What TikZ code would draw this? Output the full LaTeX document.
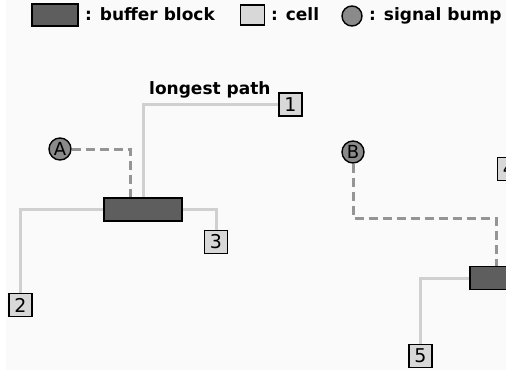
\documentclass[tikz,border=0pt]{standalone}
\usepackage{fontspec}
\setmainfont{DejaVu Sans}
\usetikzlibrary{calc}
\definecolor{bufgray}{HTML}{5E5E5E}
\definecolor{cellgray}{HTML}{D8D8D8}
\definecolor{bumpgray}{HTML}{8A8A8A}
\definecolor{wiregray}{HTML}{D0D0D0}
\definecolor{dashgray}{HTML}{959595}
\definecolor{paper}{HTML}{FAFAFA}
\tikzset{
  bufferbox/.style={draw=black, line width=1.5pt, fill=bufgray, minimum width=78pt, minimum height=23pt, inner sep=0pt},
  cellbox/.style={draw=black, line width=1.4pt, fill=cellgray, minimum width=23pt, minimum height=23pt, inner sep=0pt, font=\fontsize{19}{19}\selectfont},
  bump/.style={draw=black, line width=1.4pt, fill=bumpgray, circle, minimum size=22pt, inner sep=0pt, font=\fontsize{18}{18}\selectfont},
  wire/.style={draw=wiregray, line width=3pt},
  busline/.style={draw=dashgray, line width=3pt, dash pattern=on 9pt off 5pt},
  legendtext/.style={anchor=base west, inner sep=0pt, font=\fontsize{17}{17}\selectfont\bfseries},
}
\begin{document}
\begin{tikzpicture}[x=1pt, y=-1pt]
  \useasboundingbox (0,0) rectangle (506,373);
  \clip (0,0) rectangle (506,373);
  \fill[white] (0,0) rectangle (506,373);
  \fill[paper] (6,0) rectangle (506,370);

  % legend
  \node[bufferbox, minimum width=46pt, minimum height=22pt] (lgbuf) at (55,15) {};
  \node[legendtext] (lgbuftxt) at (85,20) {: buffer block};
  \node[cellbox, minimum width=24pt, minimum height=20pt] (lgcell) at (252.5,15) {};
  \node[legendtext] (lgcelltxt) at (271,20) {: cell};
  \node[bump, minimum size=20pt] (lgbump) at (352,16) {};
  \node[legendtext] (lgbumptxt) at (369,20) {: signal bump};

  % left buffer tree
  \node[bufferbox] (buf1) at (143,209.5) {};
  \node[cellbox] (c1) at (290.5,104.5) {1};
  \node[cellbox] (c2) at (20.5,305) {2};
  \node[cellbox] (c3) at (216,242) {3};
  \node[bump] (A) at (60,149) {A};
  \node[legendtext] (lp) at (149,94) {longest path};

  % right buffer tree
  \node[bufferbox] (buf2) at (509,278) {};
  \node[cellbox] (c4) at (509,169) {4};
  \node[cellbox] (c5) at (420.5,356) {5};
  \node[bump] (B) at (353,152) {B};

  \coordinate (ka) at ($(buf1.north)+(-13,0)$);
  \coordinate (kb) at (496,218);

  % wiring
  \draw[wire] (c1.west) -| (buf1.north);
  \draw[wire] (buf1.west) -| (c2.north);
  \draw[wire] (buf1.east) -| (c3.north);
  \draw[wire] (buf2.west) -| (c5.north);
  \draw[busline] (A.east) -| (ka);
  \draw[busline] (B.south) |- (kb) -- (kb |- buf2.north);
\end{tikzpicture}
\end{document}
